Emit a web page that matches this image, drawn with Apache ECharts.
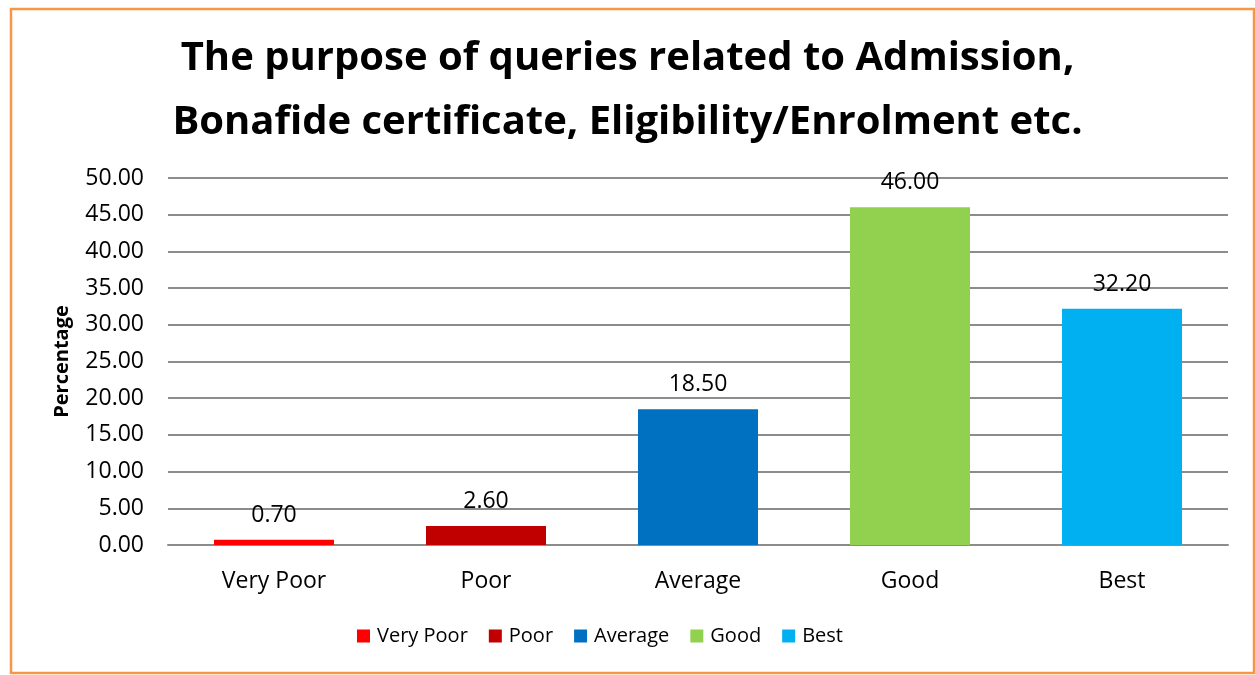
<!DOCTYPE html>
<html>
<head>
<meta charset="utf-8">
<script src="https://cdn.jsdelivr.net/npm/echarts@6/dist/echarts.min.js"></script>
<style>
  html, body { margin: 0; padding: 0; background: #fff; }
  #chart { width: 1255px; height: 675px; }
</style>
</head>
<body>
<div id="chart"></div>
<script>
// ratings and their shares
const categories = ['Very Poor', 'Poor', 'Average', 'Good', 'Best'];
const values = [0.70, 2.60, 18.50, 46.00, 32.20];
const colors = ['#FF0000', '#C00000', '#0070C0', '#92D050', '#00B0F0'];
const yTicks = { min: 0, max: 50, step: 5 };

const FONT = '"Open Sans", "Noto Sans", sans-serif';

const chart = echarts.init(document.getElementById('chart'));

// one series per rating so the legend gets one entry each
const series = categories.map((name, i) => ({
  name,
  type: 'bar',
  stack: 'all',
  barWidth: 120,
  data: categories.map((_, j) => (j === i ? values[i] : '-')),
  itemStyle: { color: colors[i] },
  label: {
    show: true,
    position: 'top',
    distance: 13,
    color: '#000',
    fontFamily: FONT,
    fontSize: 23,
    formatter: p => (+p.value).toFixed(2)
  }
}));

chart.setOption({
  animation: false,
  backgroundColor: '#fff',
  title: {
    text: 'The purpose of queries related to Admission,\nBonafide certificate, Eligibility/Enrolment etc.',
    left: 'center',
    top: 22,
    textStyle: { fontFamily: FONT, fontSize: 40, fontWeight: 'bold', color: '#000', lineHeight: 64 }
  },
  grid: { left: 168, right: 27, top: 178, bottom: 130 },
  legend: {
    top: 621,
    left: 352,
    icon: 'rect',
    itemWidth: 13,
    itemHeight: 13,
    itemGap: 21,
    textStyle: { fontFamily: FONT, fontSize: 20, color: '#000', padding: [0, 0, 0, 2] },
    data: categories
  },
  xAxis: {
    type: 'category',
    data: categories,
    axisLine: { lineStyle: { color: '#8c8c8c', width: 2 } },
    axisTick: { show: false },
    axisLabel: { color: '#000', fontFamily: FONT, fontSize: 23, margin: 25 }
  },
  yAxis: {
    type: 'value',
    min: yTicks.min,
    max: yTicks.max,
    interval: yTicks.step,
    name: 'Percentage',
    nameLocation: 'middle',
    nameGap: 96,
    nameTextStyle: { fontFamily: FONT, fontSize: 20, fontWeight: 'bold', color: '#000' },
    axisLine: { show: false },
    axisTick: { show: false },
    axisLabel: { color: '#000', fontFamily: FONT, fontSize: 23, margin: 24, formatter: v => v.toFixed(2) },
    splitLine: { lineStyle: { color: '#8c8c8c', width: 2 } }
  },
  graphic: [{
    type: 'rect',
    shape: { x: 11, y: 9, width: 1243, height: 664 },
    style: { fill: 'none', stroke: '#F79646', lineWidth: 2.5 },
    silent: true
  }],
  series
});
</script>
</body>
</html>
